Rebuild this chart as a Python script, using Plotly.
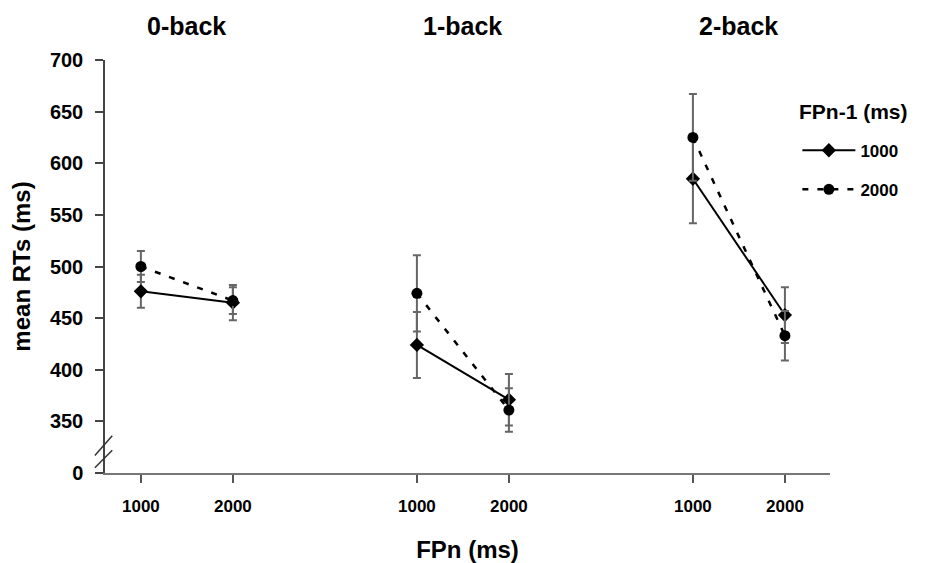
import plotly.graph_objects as go

# ---------------- data ----------------
groups = ["0-back", "1-back", "2-back"]
fpn_levels = ["1000", "2000"]

# FPn-1 = 1000 ms series (solid, diamonds)
rt_prev1000 = [[476, 465], [424, 371], [585, 453]]
err_prev1000 = [[16, 17], [32, 25], [43, 27]]

# FPn-1 = 2000 ms series (dashed, circles)
rt_prev2000 = [[500, 467], [474, 361], [625, 433]]
err_prev2000 = [[15, 13], [37, 21], [42, 24]]

series_names = ["1000", "2000"]
legend_title = "FPn-1 (ms)"

# broken y-axis: the "0" tick is drawn where 300 would be
axis_zero_pos = 300
y_tick_vals = [300, 350, 400, 450, 500, 550, 600, 650, 700]
y_tick_text = ["0", "350", "400", "450", "500", "550", "600", "650", "700"]

GROUP_STEP = 3  # x-units between groups (FPn positions are 0 and 1 inside a group)

FONT = "Liberation Sans, Arial, sans-serif"

fig = go.Figure()

styles = [
    dict(name=series_names[0], data=rt_prev1000, err=err_prev1000,
         line=dict(color="black", width=2), marker=dict(symbol="diamond", size=11, color="black")),
    dict(name=series_names[1], data=rt_prev2000, err=err_prev2000,
         line=dict(color="black", width=2.5, dash="6px,9px"), marker=dict(symbol="circle", size=11, color="black")),
]

for s_i, st in enumerate(styles):
    for g_i, g in enumerate(groups):
        xs = [g_i * GROUP_STEP + j for j in range(len(fpn_levels))]
        fig.add_trace(go.Scatter(
            x=xs, y=st["data"][g_i],
            mode="lines+markers",
            name=st["name"],
            legendgroup=st["name"],
            showlegend=(g_i == 0),
            line=st["line"],
            marker=st["marker"],
            error_y=dict(type="data", array=st["err"][g_i], visible=True,
                         color="#666666", thickness=2, width=4),
        ))

tick_x = [g_i * GROUP_STEP + j for g_i in range(len(groups)) for j in range(len(fpn_levels))]
tick_t = [fpn_levels[j] for g_i in range(len(groups)) for j in range(len(fpn_levels))]

# panel titles
for g_i, g in enumerate(groups):
    fig.add_annotation(x=g_i * GROUP_STEP + 0.5, y=1.082, xref="x", yref="paper",
                       text="<b>%s</b>" % g, showarrow=False,
                       font=dict(family=FONT, size=25, color="black"),
                       xanchor="center", yanchor="middle")

# legend title
fig.add_annotation(x=0.9545, y=0.875, xref="paper", yref="paper",
                   text="<b>%s</b>" % legend_title, showarrow=False,
                   font=dict(family=FONT, size=21, color="black"),
                   xanchor="left", yanchor="middle")

# axis break marks
for y0, y1 in [(317, 336), (305, 322)]:
    fig.add_shape(type="line", xref="paper", yref="y",
                  x0=-0.014, x1=0.010, y0=y0, y1=y1,
                  line=dict(color="#333", width=1.5))

fig.update_layout(
    width=927, height=563,
    margin=dict(l=97, r=105, t=52, b=96),
    paper_bgcolor="white", plot_bgcolor="white",
    font=dict(family=FONT, color="black"),
    legend=dict(
        x=0.955, y=0.824, xanchor="left", yanchor="top",
        font=dict(family=FONT, size=17, color="black", weight="bold"),
        itemwidth=53, tracegroupgap=14, bgcolor="rgba(0,0,0,0)",
    ),
    xaxis=dict(
        range=[-0.39, 7.49],
        tickmode="array", tickvals=tick_x, ticktext=tick_t,
        ticks="outside", ticklen=8, tickwidth=1.5, tickcolor="#555",
        showline=True, linecolor="#777", linewidth=2,
        showgrid=False, zeroline=False,
        tickfont=dict(family=FONT, size=17, color="black", weight="bold"),
        ticklabelstandoff=9,
        title=dict(text="<b>FPn (ms)</b>", font=dict(family=FONT, size=24, color="black"), standoff=26),
    ),
    yaxis=dict(
        range=[axis_zero_pos, 700],
        tickmode="array", tickvals=y_tick_vals, ticktext=y_tick_text,
        ticks="outside", ticklen=8, tickwidth=1.5, tickcolor="#444",
        showline=True, linecolor="#444", linewidth=1.5,
        showgrid=False, zeroline=False,
        tickfont=dict(family=FONT, size=20, color="black", weight="bold"),
        ticklabelstandoff=8,
        title=dict(text="<b>mean RTs (ms)</b>", font=dict(family=FONT, size=24, color="black"), standoff=12),
    ),
)

fig.write_html("out.html")
